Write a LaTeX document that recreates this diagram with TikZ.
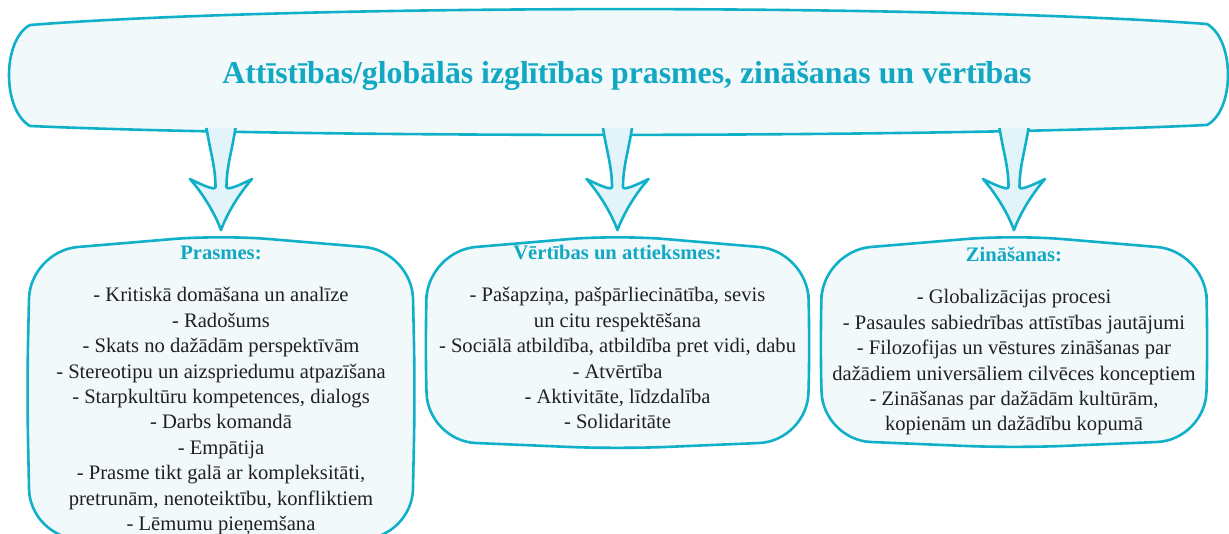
\documentclass[tikz,border=0pt]{standalone}
\usepackage{fontspec}
\setmainfont{Liberation Serif}
\usetikzlibrary{positioning,calc}

\definecolor{tealline}{HTML}{10B0C8}
\definecolor{tealtext}{HTML}{12A8C3}
\definecolor{panelfill}{HTML}{F1F9FB}
\definecolor{arrowfill}{HTML}{E2F4F9}
\definecolor{darktext}{HTML}{231F20}

% bowed, rounded outline round an empty holder node
\newcommand{\bowbox}[1]{%
  \draw[outline, rounded corners=48pt] (#1.north)
    -- ($(#1.north east)+(-3,-16)$) -- (#1.east)
    -- ($(#1.south east)+(-3,8)$) -- (#1.south)
    -- ($(#1.south west)+(3,8)$) -- (#1.west)
    -- ($(#1.north west)+(3,-16)$) -- cycle;}

% fat curved arrow from the banner down to a box
\newcommand{\fatarrow}[2]{%
  \coordinate (tip) at ($(#2.north)+(0,5)$);
  \coordinate (top) at (#1.south -| tip);
  \draw[arrowline] ($(top)+(-14.5,7)$)
    .. controls +(4,-25) and +(0,20) .. ($(tip)+(-5.5,43)$)
    .. controls +(0,-4) and +(12,-6) .. ($(tip)+(-31,51)$)
    .. controls +(14,-16) and +(-6,16) .. (tip)
    .. controls +(6,16) and +(-14,-16) .. ($(tip)+(31,51)$)
    .. controls +(-12,-6) and +(0,-4) .. ($(tip)+(5.5,43)$)
    .. controls +(0,20) and +(-4,-25) .. ($(top)+(14.5,7)$);}

\newcommand{\headline}[1]{\textcolor{tealtext}{\bfseries\strut #1}}

\begin{document}
\begin{tikzpicture}[x=1pt,y=1pt]
    % Define styles
    \tikzstyle{holder} = [inner sep=0pt, outer sep=0pt]
    \tikzstyle{outline} = [draw=tealline, line width=2.6pt, fill=panelfill, line join=round]
    \tikzstyle{arrowline} = [draw=tealline, line width=2.6pt, fill=arrowfill, line join=round]
    \tikzstyle{heading} = [text=tealtext, font=\bfseries\fontsize{31.8}{36}\selectfont]
    \tikzstyle{panel} = [text=darktext, align=center, inner sep=0pt, font=\fontsize{20.6}{25.4}\selectfont]

    \useasboundingbox (0,0) rectangle (1229,-534);

    % Banner
    \node[holder, minimum width=1220pt, minimum height=127pt, anchor=north west] (banner) at (8,-8) {};
    \draw[outline] (30,-25) .. controls (300,-4) and (930,-4) .. (1207,-24)
        .. controls (1235,-40) and (1235,-110) .. (1207,-125)
        .. controls (930,-138) and (300,-138) .. (30,-126)
        .. controls (2,-110) and (2,-40) .. (30,-25) -- cycle;
    \node[heading] (title) at ($(banner.center)+(9,-4.5)$) {Attīstības/globālās izglītības prasmes, zināšanas un vērtības};

    % Boxes
    \node[holder, minimum width=388pt, minimum height=310pt, anchor=north west] (prasmesbox) at (27,-235) {};
    \node[holder, minimum width=385pt, minimum height=214pt, right=10pt of prasmesbox.north east, anchor=north west] (vertibasbox) {};
    \node[holder, minimum width=388pt, minimum height=213pt, right=10pt of vertibasbox.north east, anchor=north west] (zinasanasbox) {};
    \bowbox{prasmesbox}
    \bowbox{vertibasbox}
    \bowbox{zinasanasbox}

    \node[panel, below=7pt of prasmesbox.north] (prasmes) {\headline{Prasmes:}\\[16.6pt]
        - Kritiskā domāšana un analīze\\
        - Radošums\\
        - Skats no dažādām perspektīvām\\
        - Stereotipu un aizspriedumu atpazīšana\\
        - Starpkultūru kompetences, dialogs\\
        - Darbs komandā\\
        - Empātija\\
        - Prasme tikt galā ar kompleksitāti,\\
        pretrunām, nenoteiktību, konfliktiem\\
        - Lēmumu pieņemšana};
    \node[panel, below=7pt of vertibasbox.north] (vertibas) {\headline{Vērtības un attieksmes:}\\[16.6pt]
        - Pašapziņa, pašpārliecinātība, sevis\\
        un citu respektēšana\\
        - Sociālā atbildība, atbildība pret vidi, dabu\\
        - Atvērtība\\
        - Aktivitāte, līdzdalība\\
        - Solidaritāte};
    \node[panel, below=9pt of zinasanasbox.north] (zinasanas) {\headline{Zināšanas:}\\[16.6pt]
        - Globalizācijas procesi\\
        - Pasaules sabiedrības attīstības jautājumi\\
        - Filozofijas un vēstures zināšanas par\\
        dažādiem universāliem cilvēces konceptiem\\
        - Zināšanas par dažādām kultūrām,\\
        kopienām un dažādību kopumā};

    % Arrows
    \fatarrow{banner}{prasmesbox}
    \fatarrow{banner}{vertibasbox}
    \fatarrow{banner}{zinasanasbox}

\end{tikzpicture}
\end{document}
